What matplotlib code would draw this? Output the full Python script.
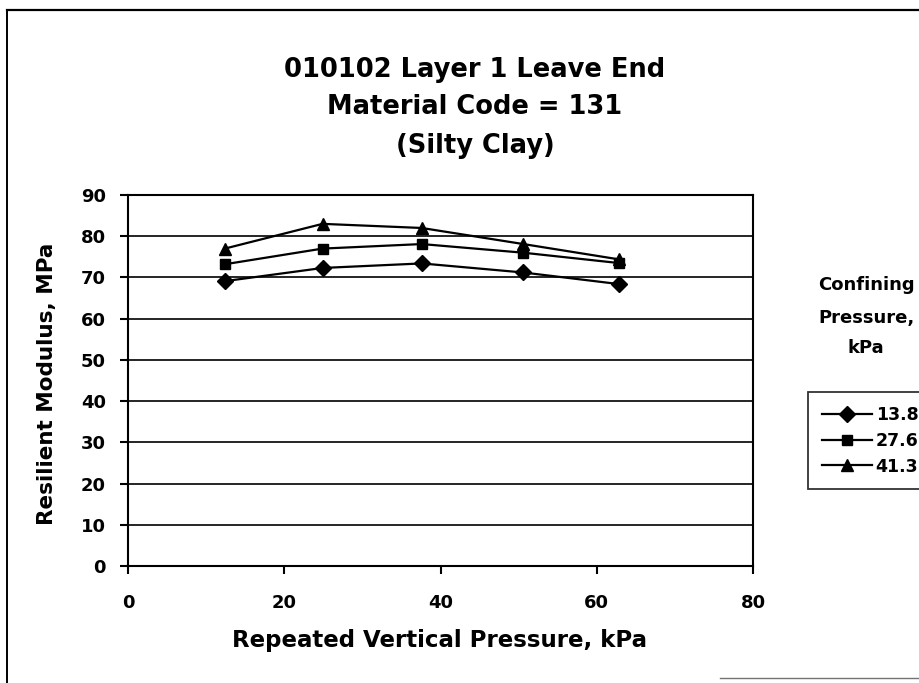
import matplotlib
matplotlib.use('Agg')
import matplotlib.pyplot as plt
from matplotlib.lines import Line2D

plt.rcParams['font.family'] = ['DejaVu Sans']
plt.rcParams['font.weight'] = 'bold'

# repeated vertical pressure, kPa
rvp = [12.4, 24.9, 37.6, 50.6, 62.8]

# resilient modulus per confining pressure, MPa
conf_labels = ['13.8', '27.6', '41.3']
mr_138 = [69.1, 72.3, 73.4, 71.2, 68.4]
mr_276 = [73.2, 77.0, 78.1, 76.0, 73.5]
mr_413 = [77.0, 83.0, 82.0, 78.1, 74.4]

x_ticks = [0, 20, 40, 60, 80]
y_ticks = [0, 10, 20, 30, 40, 50, 60, 70, 80, 90]

W, H = 919, 683
fig = plt.figure(figsize=(W / 100, H / 100), dpi=100)
ax = fig.add_axes([128 / W, 1 - 566 / H, 625 / W, 371 / H])

series = [(mr_138, 'D', 8), (mr_276, 's', 7.5), (mr_413, '^', 8.5)]
for (vals, mk, ms), lab in zip(series, conf_labels):
    ax.plot(rvp, vals, color='black', lw=1.6, marker=mk, ms=ms,
            mfc='black', mec='black', label=lab, zorder=3)

ax.set_xlim(0, 80)
ax.set_ylim(0, 90)
ax.set_xticks(x_ticks)
ax.set_yticks(y_ticks)
ax.yaxis.grid(True, color='black', lw=1.2)
ax.set_axisbelow(True)
for s in ax.spines.values():
    s.set_linewidth(1.5)
    s.set_color('black')
ax.tick_params(axis='both', direction='out', length=6, width=1.5,
               labelsize=13, colors='black')
ax.tick_params(axis='y', pad=10)
ax.tick_params(axis='x', pad=14)

title_lines = ['010102 Layer 1 Leave End', 'Material Code = 131', '(Silty Clay)']
for txt, yy in zip(title_lines, [70, 107, 146]):
    fig.text(475 / W, 1 - yy / H, txt, ha='center', va='center',
             fontsize=18.5, fontweight='bold')

fig.text(47 / W, 1 - 384 / H, 'Resilient Modulus, MPa', rotation=90,
         ha='center', va='center', fontsize=15.5, fontweight='bold')
fig.text(440 / W, 1 - 640 / H, 'Repeated Vertical Pressure, kPa',
         ha='center', va='center', fontsize=16.5, fontweight='bold')

for txt, yy in zip(['Confining', 'Pressure,', 'kPa'], [285, 318, 348]):
    fig.text(866 / W, 1 - yy / H, txt, ha='center', va='center',
             fontsize=13, fontweight='bold')

leg = ax.legend(loc='upper left', bbox_to_anchor=(808 / W, 1 - 392 / H),
                bbox_transform=fig.transFigure, borderaxespad=0,
                fancybox=False, frameon=True, fontsize=12.5,
                handlelength=2.9, handletextpad=0.2, borderpad=0.8,
                labelspacing=0.45)
leg.get_frame().set_edgecolor('black')
leg.get_frame().set_linewidth(1.3)

# outer chart border
fig.add_artist(Line2D([7 / W, 7 / W], [0, 1 - 10 / H], color='black', lw=1.4))
fig.add_artist(Line2D([7 / W, 1], [1 - 10 / H, 1 - 10 / H], color='black', lw=1.6))
fig.add_artist(Line2D([720 / W, 1], [1 - 678 / H, 1 - 678 / H], color='0.45', lw=1.0))

fig.savefig('out.png', dpi=100)
